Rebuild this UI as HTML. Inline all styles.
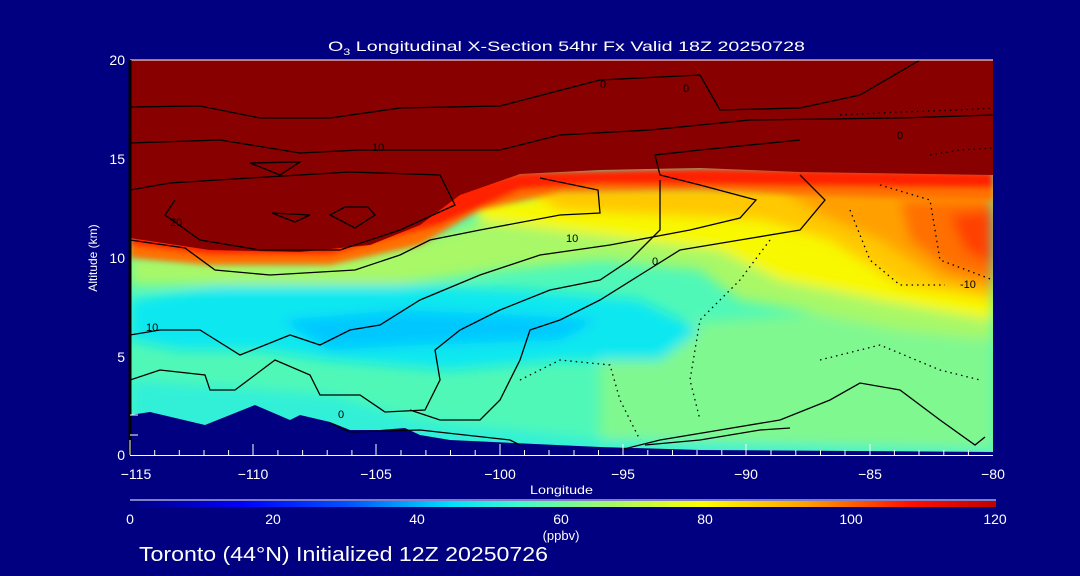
<!DOCTYPE html>
<html><head><style>
html,body{margin:0;padding:0;background:#000080;}
svg{display:block;}
text{font-family:"Liberation Sans",sans-serif;fill:#fff;}
</style></head><body>
<svg width="1080" height="576" viewBox="0 0 1080 576" xmlns="http://www.w3.org/2000/svg">
<defs>
<clipPath id="pc"><rect x="130" y="60" width="863" height="395"/></clipPath>
<filter id="bl" x="-10%" y="-10%" width="120%" height="120%"><feGaussianBlur stdDeviation="6"/></filter>
<filter id="bl2" x="-10%" y="-10%" width="120%" height="120%"><feGaussianBlur stdDeviation="3"/></filter>
<linearGradient id="cb" x1="0" x2="1" y1="0" y2="0">
<stop offset="0" stop-color="#000080"/>
<stop offset="0.13" stop-color="#0000ff"/>
<stop offset="0.25" stop-color="#0050ff"/>
<stop offset="0.37" stop-color="#00e0ff"/>
<stop offset="0.45" stop-color="#40f8d0"/>
<stop offset="0.55" stop-color="#a0f870"/>
<stop offset="0.66" stop-color="#ffff00"/>
<stop offset="0.78" stop-color="#ffa000"/>
<stop offset="0.9" stop-color="#ff1000"/>
<stop offset="1" stop-color="#c00000"/>
</linearGradient>
</defs>
<text x="328" y="51" font-size="14" textLength="477" lengthAdjust="spacingAndGlyphs">O<tspan font-size="9" dy="4">3</tspan><tspan dy="-4"> Longitudinal X-Section 54hr  Fx Valid 18Z 20250728</tspan></text>
<g clip-path="url(#pc)">
<rect x="130" y="60" width="863" height="395" fill="#50f8b8"/>
<g filter="url(#bl)">
<polygon points="600,330 993,300 993,455 600,455" fill="#80f890"/>
<polygon points="130,300 250,280 400,285 520,290 640,300 700,330 660,360 560,360 450,370 330,360 260,350 180,350 130,340" fill="#10e8f0"/>
<polygon points="280,320 400,310 520,315 600,320 560,340 420,345 330,350" fill="#00c8ff"/>
<polygon points="130,380 330,395 420,420 600,440 993,450 993,455 130,455" fill="#30f0d8"/>
<polygon points="130,255 300,262 420,240 500,215 620,210 720,200 993,200 993,340 900,330 800,310 740,300 700,270 600,260 500,270 400,285 300,285 130,285" fill="#a8f868"/>
<polygon points="470,200 700,190 993,190 993,320 880,300 780,280 720,250 640,240 560,230 480,220" fill="#f8f800"/>
<polygon points="520,185 993,185 993,300 900,285 830,240 760,220 660,215 560,210" fill="#ffc800"/>
<polygon points="780,188 993,185 993,290 940,280 880,240 820,215" fill="#ffa000"/>
<polygon points="900,200 993,200 993,280 950,270 910,240" fill="#ff7000"/>
<polygon points="950,215 993,210 993,265 965,250" fill="#ff4000"/>
</g>
<g filter="url(#bl2)">
<polygon points="130,225 300,245 400,225 450,195 520,175 700,170 993,175 993,200 800,195 700,190 560,192 480,210 420,245 330,265 210,265 130,258" fill="#ff7000"/>
<polygon points="130,225 300,240 400,218 450,190 520,172 700,168 993,172 993,188 800,186 600,184 520,190 440,225 330,255 210,255 130,245" fill="#ff2000"/>
</g>
<polygon points="130,60 993,60 993,175 800,172 700,168 600,170 520,174 460,195 420,225 370,245 300,252 210,250 130,238" fill="#880000"/>
<polygon points="130,455 130,415 150,412 205,425 255,405 290,420 300,415 330,422 350,430 380,430 405,428 420,435 450,440 600,447 700,450 993,452 993,455" fill="#000080"/>
<g fill="none" stroke="#000" stroke-width="1.3">
<path d="M130,107 L200,106 L260,118 L330,118 L400,108 L500,106 L600,80 L700,75 L720,110 L800,108 L860,95 L920,60"/>
<path d="M130,143 L220,140 L300,153 L360,150 L500,150 L560,135 L650,130 L750,120 L900,118 L993,115"/>
<path d="M130,190 L170,183 L250,178 L350,172 L440,175 L455,205 L400,230 L340,250 L260,250 L200,240 L165,215 L175,200"/>
<path d="M250,163 L300,162 L280,175 Z"/>
<path d="M272,213 L310,215 L295,222 Z"/>
<path d="M330,215 L345,207 L368,207 L375,215 L355,228 Z"/>
<path d="M130,240 L185,248 L215,270 L270,275 L355,270 L400,255 L430,240 L480,230 L560,215 L600,213 L598,190 L540,178"/>
<path d="M130,335 L160,330 L200,330 L240,355 L290,335 L320,345 L350,330 L380,325 L420,300 L480,275 L540,255 L610,245 L690,230 L740,218 L756,200 L700,185 L660,175 L655,155 L700,150 L800,140"/>
<path d="M130,380 L160,370 L205,375 L210,390 L235,390 L275,360 L310,375 L320,395 L360,395 L385,412 L425,410 L440,380 L435,350 L460,330 L500,310 L550,290 L600,280 L630,260 L640,250 L660,230 L660,180"/>
<path d="M410,410 L440,420 L480,420 L500,400 L520,360 L530,330 L560,320 L600,300 L640,275 L680,250 L740,240 L800,230 L825,200 L800,175"/>
<path d="M330,423 L350,432 L420,430 L510,440 L520,445"/>
<path d="M620,450 L660,440 L720,430 L780,420 L830,400 L860,383 L900,390 L940,420 L975,445 L985,437"/>
<path d="M645,445 L700,440 L760,430 L790,428"/>
</g>
<g fill="none" stroke="#000" stroke-width="1.3" stroke-dasharray="1.5,4">
<path d="M840,115 L900,112 L960,110 L993,108"/>
<path d="M930,155 L960,150 L993,148"/>
<path d="M880,185 L930,200 L940,260 L993,280"/>
<path d="M770,240 L740,280 L700,320 L690,380 L700,420"/>
<path d="M850,210 L870,260 L900,285 L945,285"/>
<path d="M520,380 L560,360 L610,365 L620,400 L640,440"/>
<path d="M820,360 L880,345 L940,370 L980,380"/>
</g>
<g font-size="11">
<text x="372" y="151" style="fill:#000">10</text>
<text x="170" y="226" style="fill:#000">20</text>
<text x="566" y="242" style="fill:#000">10</text>
<text x="652" y="265" style="fill:#000">0</text>
<text x="146" y="331" style="fill:#000">10</text>
<text x="338" y="418" style="fill:#000">0</text>
<text x="960" y="288" style="fill:#000">-10</text>
<text x="897" y="139" style="fill:#000">0</text>
<text x="600" y="88" style="fill:#000">0</text>
<text x="683" y="92" style="fill:#000">0</text>
</g>
</g>
<line x1="130" y1="60" x2="993" y2="60" stroke="#fff" stroke-width="1"/>
<line x1="130" y1="60" x2="130" y2="455" stroke="#000" stroke-width="3"/>
<line x1="130" y1="455.5" x2="993" y2="455.5" stroke="#fff" stroke-width="1"/>
<g stroke="#fff" stroke-width="1">
<line x1="130" y1="455" x2="130" y2="440"/>
<line x1="154.7" y1="455" x2="154.7" y2="450"/><line x1="179.3" y1="455" x2="179.3" y2="450"/><line x1="204" y1="455" x2="204" y2="450"/><line x1="228.6" y1="455" x2="228.6" y2="450"/>
<line x1="253" y1="455" x2="253" y2="444"/>
<line x1="277.9" y1="455" x2="277.9" y2="450"/><line x1="302.6" y1="455" x2="302.6" y2="450"/><line x1="327.2" y1="455" x2="327.2" y2="450"/><line x1="351.9" y1="455" x2="351.9" y2="450"/>
<line x1="376" y1="455" x2="376" y2="444"/>
<line x1="401" y1="455" x2="401" y2="450"/><line x1="425.9" y1="455" x2="425.9" y2="450"/><line x1="450.5" y1="455" x2="450.5" y2="450"/><line x1="475.2" y1="455" x2="475.2" y2="450"/>
<line x1="500" y1="455" x2="500" y2="444"/>
<line x1="524.5" y1="455" x2="524.5" y2="450"/><line x1="549" y1="455" x2="549" y2="450"/><line x1="574" y1="455" x2="574" y2="450"/><line x1="598.5" y1="455" x2="598.5" y2="450"/>
<line x1="623" y1="455" x2="623" y2="444"/>
<line x1="647.8" y1="455" x2="647.8" y2="450"/><line x1="672.5" y1="455" x2="672.5" y2="450"/><line x1="697" y1="455" x2="697" y2="450"/><line x1="721.8" y1="455" x2="721.8" y2="450"/>
<line x1="746" y1="455" x2="746" y2="444"/>
<line x1="771" y1="455" x2="771" y2="450"/><line x1="795.8" y1="455" x2="795.8" y2="450"/><line x1="820.5" y1="455" x2="820.5" y2="450"/><line x1="845" y1="455" x2="845" y2="450"/>
<line x1="870" y1="455" x2="870" y2="444"/>
<line x1="894.4" y1="455" x2="894.4" y2="450"/><line x1="919" y1="455" x2="919" y2="450"/><line x1="943.8" y1="455" x2="943.8" y2="450"/><line x1="968.4" y1="455" x2="968.4" y2="450"/>
<line x1="130" y1="435" x2="138" y2="435"/><line x1="130" y1="415" x2="138" y2="415"/>
</g>
<g font-size="14" text-anchor="end">
<text x="125" y="65">20</text><text x="125" y="164">15</text><text x="125" y="263">10</text>
<text x="125" y="362">5</text><text x="125" y="460">0</text>
</g>
<g font-size="14" text-anchor="middle">
<text x="136" y="479">−115</text><text x="253" y="479">−110</text><text x="376" y="479">−105</text>
<text x="500" y="479">−100</text><text x="623" y="479">−95</text><text x="746" y="479">−90</text>
<text x="870" y="479">−85</text><text x="993" y="479">−80</text>
</g>
<text x="530" y="494" font-size="12" textLength="63" lengthAdjust="spacingAndGlyphs">Longitude</text>
<text x="97" y="258" font-size="12" text-anchor="middle" transform="rotate(-90 97 258)">Altitude (km)</text>
<line x1="130" y1="500" x2="996" y2="500" stroke="#fff"/>
<rect x="130" y="501" width="866" height="6" fill="url(#cb)"/>
<g font-size="14" text-anchor="middle">
<text x="130" y="524">0</text><text x="273" y="524">20</text><text x="417" y="524">40</text>
<text x="561" y="524">60</text><text x="705" y="524">80</text><text x="851" y="524">100</text><text x="995" y="524">120</text>
</g>
<text x="561" y="540" font-size="13" text-anchor="middle">(ppbv)</text>
<text x="139" y="561" font-size="20" textLength="409" lengthAdjust="spacingAndGlyphs">Toronto (44°N) Initialized 12Z 20250726</text>
</svg>
</body></html>
